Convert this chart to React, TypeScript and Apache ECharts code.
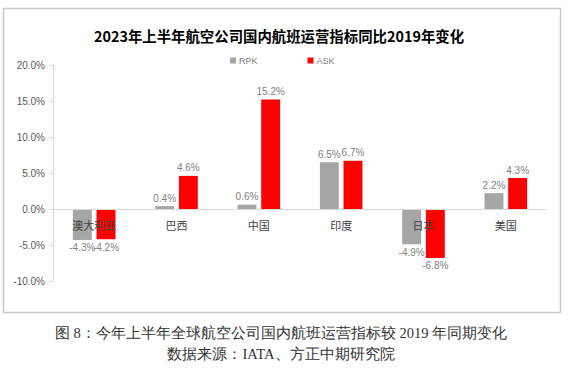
import React, { useEffect, useRef } from "react";
import * as echarts from "echarts";

const categories = ["澳大利亚", "巴西", "中国", "印度", "日本", "美国"];
const rpk = [-4.3, 0.4, 0.6, 6.5, -4.9, 2.2];
const ask = [-4.2, 4.6, 15.2, 6.7, -6.8, 4.3];
const yMin = -10;
const yMax = 20;
const titleText = "2023年上半年航空公司国内航班运营指标同比2019年变化";
const caption1 = "图 8：今年上半年全球航空公司国内航班运营指标较 2019 年同期变化";
const caption2 = "数据来源：IATA、方正中期研究院";

const toData = (arr: number[]) =>
  arr.map((v) => ({ value: v, label: { position: v < 0 ? "bottom" : "top" } }));

export default function App() {
  const ref = useRef<HTMLDivElement>(null);
  useEffect(() => {
    const chart = echarts.init(ref.current!, undefined, { renderer: "svg" });
    const gridTop = 65;
    const gridBottom = 88;
    const plotH = 369 - gridTop - gridBottom;
    const zeroFromBottom = (plotH * (0 - yMin)) / (yMax - yMin);
    const labelCommon = {
      show: true,
      formatter: (p: any) => p.value.toFixed(1) + "%",
      color: "#7f7f7f",
      fontSize: 10,
      fontFamily: "Liberation Sans, Arial, sans-serif",
      distance: 3,
    };
    chart.setOption({
      animation: false,
      backgroundColor: "#fff",
      graphic: [
        {
          type: "rect",
          shape: { x: 3.5, y: 8.5, width: 557, height: 304 },
          style: { fill: "none", stroke: "#c8c8c8", lineWidth: 1.5 },
          z: -1,
        },
        {
          type: "text",
          x: 281,
          y: 333,
          style: {
            text: caption1,
            align: "center",
            verticalAlign: "middle",
            fontSize: 14.6,
            fill: "#333",
            fontFamily: "serif",
          },
        },
        {
          type: "text",
          x: 281,
          y: 354,
          style: {
            text: caption2,
            align: "center",
            verticalAlign: "middle",
            fontSize: 14.6,
            fill: "#333",
            fontFamily: "serif",
          },
        },
      ],
      title: {
        text: titleText,
        left: 274,
        textAlign: "center",
        top: 23,
        textStyle: {
          fontSize: 14.4,
          fontWeight: "bold",
          color: "#000",
          fontFamily: "Noto Sans CJK SC, sans-serif",
        },
      },
      legend: {
        left: 225,
        top: 51,
        itemWidth: 6,
        itemHeight: 6,
        itemGap: 50,
        icon: "rect",
        textStyle: { fontSize: 9, color: "#7f7f7f", padding: [0, 0, 0, -2] },
        data: ["RPK", "ASK"],
      },
      grid: { left: 53, right: 22, top: gridTop, bottom: gridBottom },
      xAxis: {
        type: "category",
        data: categories,
        axisLine: { onZero: true, lineStyle: { color: "#d9d9d9" } },
        axisTick: { show: false },
        axisLabel: {
          color: "#404040",
          fontSize: 11,
          margin: 10 - zeroFromBottom,
          fontFamily: "Noto Sans CJK SC, sans-serif",
        },
        z: 10,
      },
      yAxis: {
        type: "value",
        min: yMin,
        max: yMax,
        interval: 5,
        splitLine: { show: false },
        axisLine: { show: true, lineStyle: { color: "#d9d9d9" } },
        axisTick: { show: true, length: 4, lineStyle: { color: "#d9d9d9" } },
        axisLabel: {
          formatter: (v: number) => v.toFixed(1) + "%",
          color: "#595959",
          fontSize: 10,
          margin: 8,
          fontFamily: "Liberation Sans, Arial, sans-serif",
        },
      },
      series: [
        {
          name: "RPK",
          type: "bar",
          z: 1,
          data: toData(rpk),
          barWidth: "23%",
          barGap: "25%",
          itemStyle: { color: "#a6a6a6" },
          label: labelCommon,
        },
        {
          name: "ASK",
          type: "bar",
          z: 1,
          data: toData(ask),
          barWidth: "23%",
          itemStyle: { color: "#ff0000" },
          label: labelCommon,
        },
      ],
    });
    return () => chart.dispose();
  }, []);
  return (
    <div
      ref={ref}
      style={{ position: "fixed", left: 0, top: 0, width: 569, height: 369 }}
    />
  );
}
